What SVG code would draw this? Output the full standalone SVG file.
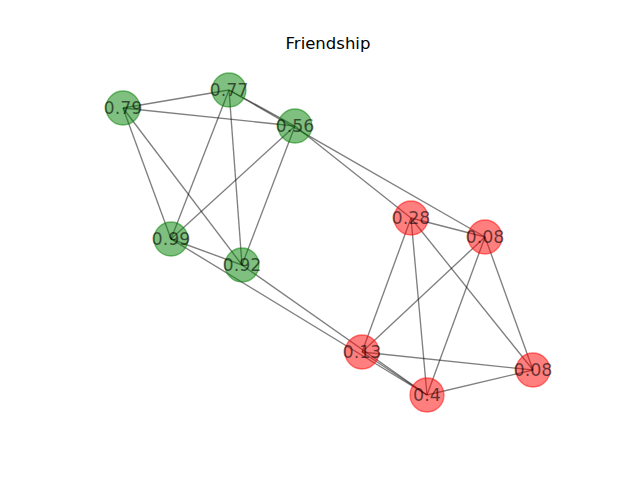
<svg xmlns="http://www.w3.org/2000/svg" width="640" height="480" viewBox="0 0 640 480">
<style>
.e{stroke:#000;stroke-opacity:0.5;stroke-width:1.35;fill:none}
.g{fill:#008000;fill-opacity:0.5;stroke:#008000;stroke-opacity:0.5;stroke-width:1.3}
.r{fill:#ff0000;fill-opacity:0.5;stroke:#ff0000;stroke-opacity:0.5;stroke-width:1.3}
text{font-family:"DejaVu Sans",sans-serif;text-anchor:middle;dominant-baseline:central}
.t{font-size:16.5px;fill:#000}
.l{font-size:17.5px;fill:#000;fill-opacity:0.6}
</style>
<rect width="640" height="480" fill="#fff"/>
<text class="t" x="328" y="43">Friendship</text>
<g id="edges">
<line class="e" x1="123" y1="108" x2="229" y2="90"/>
<line class="e" x1="123" y1="108" x2="295" y2="126"/>
<line class="e" x1="123" y1="108" x2="171" y2="239"/>
<line class="e" x1="123" y1="108" x2="242" y2="265"/>
<line class="e" x1="229" y1="90" x2="295" y2="126"/>
<line class="e" x1="229" y1="90" x2="171" y2="239"/>
<line class="e" x1="229" y1="90" x2="242" y2="265"/>
<line class="e" x1="229" y1="90" x2="485" y2="237"/>
<line class="e" x1="295" y1="126" x2="171" y2="239"/>
<line class="e" x1="295" y1="126" x2="242" y2="265"/>
<line class="e" x1="295" y1="126" x2="411" y2="218"/>
<line class="e" x1="171" y1="239" x2="242" y2="265"/>
<line class="e" x1="171" y1="239" x2="427" y2="395"/>
<line class="e" x1="242" y1="265" x2="427" y2="395"/>
<line class="e" x1="411" y1="218" x2="485" y2="237"/>
<line class="e" x1="411" y1="218" x2="362" y2="352"/>
<line class="e" x1="411" y1="218" x2="427" y2="395"/>
<line class="e" x1="411" y1="218" x2="533" y2="370"/>
<line class="e" x1="485" y1="237" x2="362" y2="352"/>
<line class="e" x1="485" y1="237" x2="427" y2="395"/>
<line class="e" x1="485" y1="237" x2="533" y2="370"/>
<line class="e" x1="362" y1="352" x2="427" y2="395"/>
<line class="e" x1="362" y1="352" x2="533" y2="370"/>
<line class="e" x1="427" y1="395" x2="533" y2="370"/>
</g>
<g id="n079"><circle class="g" cx="123" cy="108" r="17"/><text class="l" x="123" y="108">0.79</text></g>
<g id="n077"><circle class="g" cx="229" cy="90" r="17"/><text class="l" x="229" y="90">0.77</text></g>
<g id="n056"><circle class="g" cx="295" cy="126" r="17"/><text class="l" x="295" y="126">0.56</text></g>
<g id="n099"><circle class="g" cx="171" cy="239" r="17"/><text class="l" x="171" y="239">0.99</text></g>
<g id="n092"><circle class="g" cx="242" cy="265" r="17"/><text class="l" x="242" y="265">0.92</text></g>
<g id="n028"><circle class="r" cx="411" cy="218" r="17"/><text class="l" x="411" y="218">0.28</text></g>
<g id="n008a"><circle class="r" cx="485" cy="237" r="17"/><text class="l" x="485" y="237">0.08</text></g>
<g id="n013"><circle class="r" cx="362" cy="352" r="17"/><text class="l" x="362" y="352">0.13</text></g>
<g id="n04"><circle class="r" cx="427" cy="395" r="17"/><text class="l" x="427" y="395">0.4</text></g>
<g id="n008b"><circle class="r" cx="533" cy="370" r="17"/><text class="l" x="533" y="370">0.08</text></g>
</svg>
